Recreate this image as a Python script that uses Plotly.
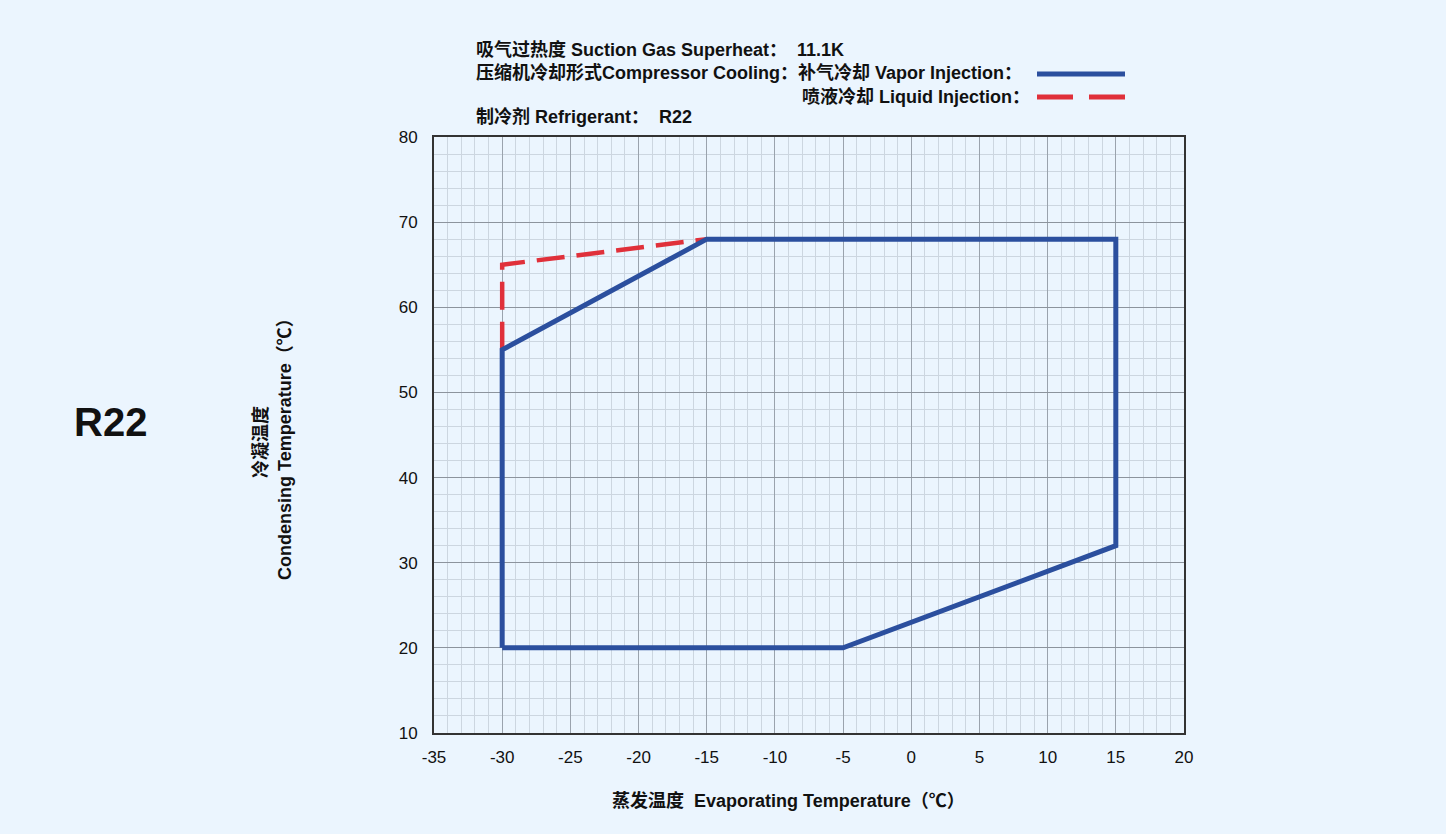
import plotly.graph_objects as go

# Data
vapor_x = [-30, -30, -15, 15, 15, -5, -30]
vapor_y = [20, 55, 68, 68, 32, 20, 20]
liquid_x = [-30, -30, -15]
liquid_y = [55, 65, 68]
x_ticks = [-35, -30, -25, -20, -15, -10, -5, 0, 5, 10, 15, 20]
y_ticks = [10, 20, 30, 40, 50, 60, 70, 80]

BG = "#EBF5FE"
BLUE = "#2B4F9E"
RED = "#E0303A"
FONT = "Liberation Sans, Arial, Noto Sans CJK SC, sans-serif"

fig = go.Figure()
fig.add_trace(go.Scatter(x=liquid_x, y=liquid_y, mode="lines",
                         line=dict(color=RED, width=4.5, dash="28px,12px"), showlegend=False))
fig.add_trace(go.Scatter(x=vapor_x, y=vapor_y, mode="lines",
                         line=dict(color=BLUE, width=5), showlegend=False))

fig.update_layout(
    width=1446, height=834,
    paper_bgcolor=BG, plot_bgcolor=BG,
    margin=dict(l=434, r=262, t=137, b=101),
    font=dict(family=FONT, size=16, color="#222"),
    showlegend=False,
)
fig.update_xaxes(range=[-35, 20], tickvals=x_ticks, ticktext=[str(v) for v in x_ticks],
                 showgrid=True, gridcolor="#9aa3ad", gridwidth=1,
                 minor=dict(dtick=1, showgrid=True, gridcolor="#ccd6e0", gridwidth=1),
                 showline=True, linecolor="#333", linewidth=2, mirror=True,
                 zeroline=False, tickfont=dict(size=17, color="#111"), ticks="",
                 ticklabelstandoff=8)
fig.update_yaxes(range=[10, 80], tickvals=y_ticks, ticktext=[str(v) for v in y_ticks],
                 showgrid=True, gridcolor="#8c949d", gridwidth=1,
                 minor=dict(dtick=2, showgrid=True, gridcolor="#ccd6e0", gridwidth=1),
                 showline=True, linecolor="#333", linewidth=2, mirror=True,
                 zeroline=False, tickfont=dict(size=17, color="#111"), ticks="",
                 ticklabelstandoff=11)

def ann(text, x, y, size=16, xanchor="left", angle=0):
    fig.add_annotation(text=text, x=x, y=y, xref="paper", yref="paper",
                       xanchor=xanchor, yanchor="middle", showarrow=False,
                       textangle=angle, font=dict(family=FONT, size=size, color="#111"))

# paper coordinates: x from 434..1184 px, y from 733..137 px
def px(xp):
    return (xp - 434) / 750.0
def py(yp):
    return (733 - yp) / 596.0

ann("<b>吸气过热度 Suction Gas Superheat：  11.1K</b>", px(474), py(50), size=18)
ann("<b>压缩机冷却形式Compressor Cooling：补气冷却 Vapor Injection：</b>", px(474), py(73), size=18)
ann("<b>喷液冷却 Liquid Injection：</b>", px(1032), py(97), size=18, xanchor="right")
ann("<b>制冷剂 Refrigerant：  R22</b>", px(474), py(117), size=18)
ann("<b>R22</b>", px(110), py(422), size=40, xanchor="center")
ann("<b>冷凝温度</b>", px(260), py(442), size=18, xanchor="center", angle=-90)
ann("<b>Condensing Temperature（℃）</b>", px(285), py(445), size=18, xanchor="center", angle=-90)
ann("<b>蒸发温度  Evaporating Temperature（℃）</b>", px(788), py(800), size=18, xanchor="center")

# legend sample lines
fig.add_shape(type="line", xref="paper", yref="paper", x0=px(1037), x1=px(1125),
              y0=py(74), y1=py(74), line=dict(color=BLUE, width=5))
fig.add_shape(type="line", xref="paper", yref="paper", x0=px(1037), x1=px(1125),
              y0=py(97), y1=py(97), line=dict(color=RED, width=5, dash="36px,16px"))

fig.write_html("out.html", config={"displayModeBar": False})

with open("out.html", "r", encoding="utf-8") as f:
    html = f.read()
html = html.replace("<head>", "<head><style>html,body{margin:0;padding:0;background:%s;}</style>" % BG, 1)
with open("out.html", "w", encoding="utf-8") as f:
    f.write(html)
